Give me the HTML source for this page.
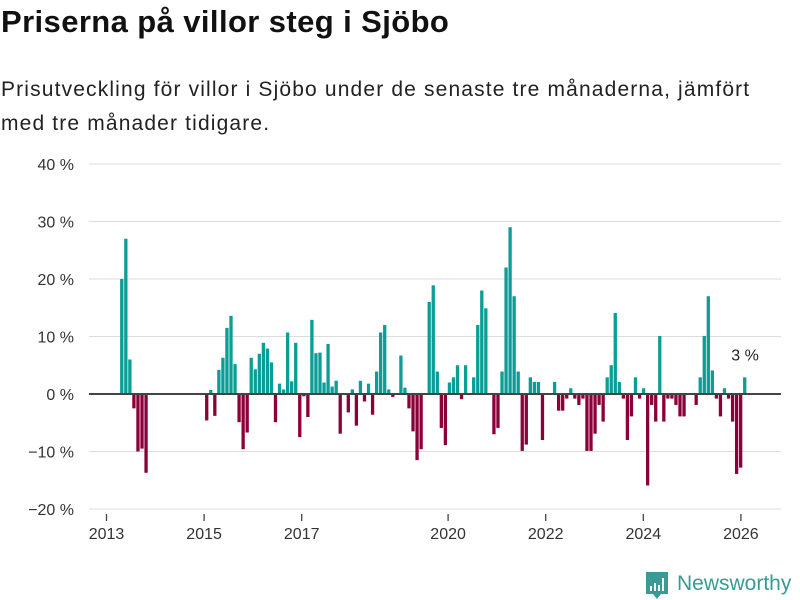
<!DOCTYPE html>
<html><head><meta charset="utf-8">
<style>
body{margin:0;background:#fff;font-family:"Liberation Sans",sans-serif;}
#wrap{position:relative;width:800px;height:600px;overflow:hidden;}
h1{position:absolute;left:1px;top:4px;margin:0;font-size:31px;font-weight:bold;color:#111;letter-spacing:0.4px}
#sub{position:absolute;left:1px;top:73px;margin:0;font-size:21px;line-height:34px;color:#222;width:772px;letter-spacing:1.15px}
</style></head><body>
<div id="wrap">
<h1>Priserna på villor steg i Sjöbo</h1>
<p id="sub">Prisutveckling för villor i Sjöbo under de senaste tre månaderna, jämfört med tre månader tidigare.</p>
<svg id="chart" width="800" height="600" style="position:absolute;left:0;top:0"></svg>
</div>
<script>
const yTicks=[40,30,20,10,0,-10,-20];
const yTickLabels=["40 %","30 %","20 %","10 %","0 %","\u221210 %","\u221220 %"];
const xYears=[2013,2015,2017,2020,2022,2024,2026];
const startIndex=3;
const values=[20,27,6,-2.5,-10,-9.5,-13.7,null,null,null,null,null,null,null,null,null,null,null,null,null,null,
-4.6,0.7,-3.8,4.2,6.3,11.5,13.6,5.2,-4.9,-9.6,-6.7,6.3,4.3,7,8.9,7.9,5.5,-4.9,1.8,0.8,10.7,2.2,8.9,-7.5,-0.4,-4,12.9,7.1,7.2,
2,8.7,1.3,2.3,-6.9,null,-3.2,0.8,-5.5,2.3,-1.3,1.8,-3.6,3.9,10.7,12,0.8,-0.5,null,6.7,1.1,-2.5,-6.5,-11.5,-9.6,null,
16,18.9,3.9,-5.9,-8.9,2,2.9,5,-0.9,5,null,2.9,12,18,14.9,null,-7,-5.9,3.9,22,29,17,3.9,-9.9,-8.8,
2.9,2.1,2.1,-8,null,null,2.1,-2.9,-2.9,-0.8,1,-0.8,-1.9,-0.8,-9.9,-9.9,-6.9,-1.9,-4.8,2.9,5,14.1,2.1,-0.8,-8,-3.9,2.9,-0.8,1,-15.9,-1.9,-4.8,10.1,-4.8,-0.8,-0.8,-1.9,-3.9,-3.9,null,null,
-1.9,2.9,10.1,17,4.1,-0.8,-3.9,1,-0.8,-4.8,-13.9,-12.8,2.9];
const lastLabel="3 %";
const NS="http://www.w3.org/2000/svg";
const svg=document.getElementById('chart');
function y(v){return 394-v*5.75;}
function xYear(yr){return 106.5+(yr-2013)*48.8;}
function xIdx(i){return 108+4.045*(startIndex+i);}
function mk(t,a){const e=document.createElementNS(NS,t);for(const k in a)e.setAttribute(k,a[k]);svg.appendChild(e);return e;}
yTicks.forEach((v,i)=>{
 if(v!==0){const g=mk('line',{x1:89,x2:781,y1:y(v),y2:y(v),stroke:'#dcdcdc','stroke-width':1});
 
 }
 const t=mk('text',{x:74,y:y(v)+6,'text-anchor':'end','font-size':16,fill:'#333','font-family':'Liberation Sans, sans-serif'});
 t.textContent=yTickLabels[i];
 
 
});
xYears.forEach(yr=>{
 const tk=mk('line',{x1:xYear(yr),x2:xYear(yr),y1:514,y2:521,stroke:'#444','stroke-width':1.3});
 
 
 const t=mk('text',{x:xYear(yr),y:539,'text-anchor':'middle','font-size':16,fill:'#333','font-family':'Liberation Sans, sans-serif'});
 t.textContent=yr;
 
 
});
values.forEach((v,i)=>{
 if(v===null)return;
 const top=v>=0?y(v):y(0), h=Math.abs(y(v)-y(0));
 const r=mk('rect',{x:xIdx(i),y:top,width:3.3,height:h,fill:v>=0?'#0a9e96':'#8c0039'});
 
 
});
const zl=mk('line',{x1:89,x2:781,y1:394,y2:394,stroke:'#444','stroke-width':2});


const li=values.length-1;
const lab=mk('text',{x:xIdx(li)+2,y:y(values[li])-17,'text-anchor':'middle','font-size':16,fill:'#222','font-family':'Liberation Sans, sans-serif'});
lab.textContent=lastLabel;


const lg=mk('g',{});


const b=mk('path',{d:'M646 572 h22 v22 h-7 l-4 5 l-4 -5 h-7 z',fill:'#3a9a94'});


[[650,586,2,5],[654,583,2,8],[658,585,2,6],[662,578,2,13]].forEach(a=>{const r=mk('rect',{x:a[0],y:a[1],width:a[2],height:a[3],fill:'#fff'});});
const lt=mk('text',{x:677,y:590,'font-size':21,fill:'#3a9a94','font-family':'Liberation Sans Narrow, Liberation Sans, sans-serif'});
lt.textContent='Newsworthy';


</script>
</body></html>
